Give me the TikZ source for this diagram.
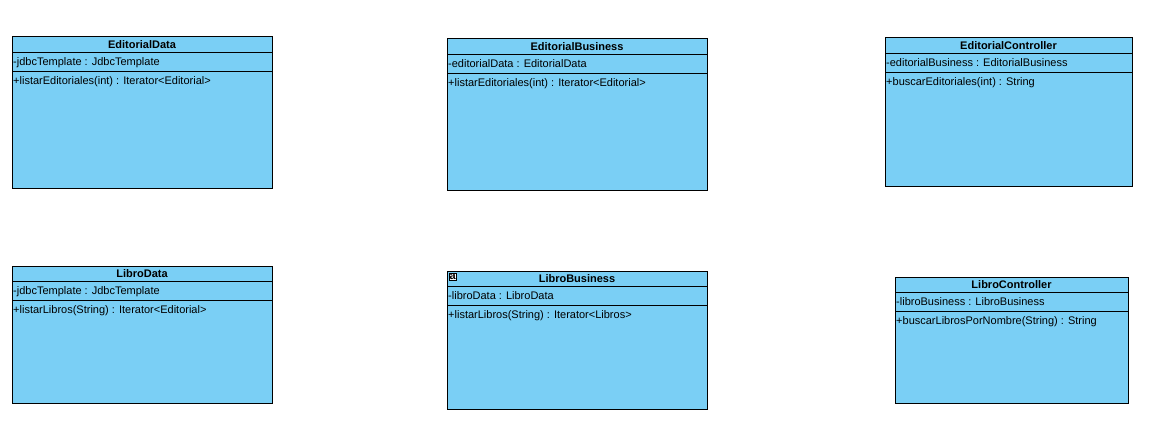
\documentclass[tikz,border=0pt]{standalone}
\usepackage{fontspec}
\setmainfont{Liberation Sans}
\usepackage{tikz}
\usetikzlibrary{positioning}

\definecolor{classblue}{RGB}{122,207,245}

\tikzset{
  classbox/.style={draw=black, line width=1pt, fill=classblue, anchor=north west,
    inner sep=0pt, outer sep=0pt},
  classtitle/.style={font=\fontsize{11}{13}\selectfont\bfseries, inner sep=0pt,
    text height=8pt, text depth=2.5pt},
  member/.style={font=\fontsize{11}{13}\selectfont, anchor=west, inner sep=1pt,
    text height=8pt, text depth=2.5pt},
  sepline/.style={line width=1pt}
}

\begin{document}
\begin{tikzpicture}[x=1pt,y=-1pt]
    \useasboundingbox (0,0) rectangle (1154,436);
    % class boxes
    \node[classbox, minimum width=260pt, minimum height=151pt] (edata) at (12,37) {};
    \node[classbox, minimum width=260pt, minimum height=151pt] (ebus) at (447,39) {};
    \node[classbox, minimum width=247pt, minimum height=148pt] (ectrl) at (885,38) {};
    \node[classbox, minimum width=260pt, minimum height=137pt] (ldata) at (12,266) {};
    \node[classbox, minimum width=260pt, minimum height=138pt] (lbus) at (447,271) {};
    \node[classbox, minimum width=233pt, minimum height=126pt] (lctrl) at (895,277) {};
    % compartments
    \foreach \c in {edata,ebus,ectrl,ldata,lbus,lctrl} {
        \draw[sepline] ([yshift=-15.5pt]\c.north west) -- ([yshift=-15.5pt]\c.north east);
        \draw[sepline] ([yshift=-34.5pt]\c.north west) -- ([yshift=-34.5pt]\c.north east);
    }
    % EditorialData
    \node[classtitle] (edatat) at ([yshift=-8.5pt]edata.north) {EditorialData};
    \node[member] (edataa) at ([yshift=-25.5pt]edata.north west) {-jdbcTemplate : JdbcTemplate};
    \node[member] (edatao) at ([yshift=-45pt]edata.north west) {+listarEditoriales(int) : Iterator<Editorial>};
    % EditorialBusiness
    \node[classtitle] (ebust) at ([yshift=-8.5pt]ebus.north) {EditorialBusiness};
    \node[member] (ebusa) at ([yshift=-25.5pt]ebus.north west) {-editorialData : EditorialData};
    \node[member] (ebuso) at ([yshift=-45pt]ebus.north west) {+listarEditoriales(int) : Iterator<Editorial>};
    % EditorialController
    \node[classtitle] (ectrlt) at ([yshift=-8.5pt]ectrl.north) {EditorialController};
    \node[member] (ectrla) at ([yshift=-25.5pt]ectrl.north west) {-editorialBusiness : EditorialBusiness};
    \node[member] (ectrlo) at ([yshift=-45pt]ectrl.north west) {+buscarEditoriales(int) : String};
    % LibroData
    \node[classtitle] (ldatat) at ([yshift=-8.5pt]ldata.north) {LibroData};
    \node[member] (ldataa) at ([yshift=-25.5pt]ldata.north west) {-jdbcTemplate : JdbcTemplate};
    \node[member] (ldatao) at ([yshift=-45pt]ldata.north west) {+listarLibros(String) : Iterator<Editorial>};
    % LibroBusiness
    \node[classtitle] (lbust) at ([yshift=-8.5pt]lbus.north) {LibroBusiness};
    \node[member] (lbusa) at ([yshift=-25.5pt]lbus.north west) {-libroData : LibroData};
    \node[member] (lbuso) at ([yshift=-45pt]lbus.north west) {+listarLibros(String) : Iterator<Libros>};
    \node[draw=black, line width=0.7pt, fill=white, inner xsep=0.8pt, inner ysep=0.6pt,
          anchor=north west, font=\fontsize{11}{11}\selectfont\bfseries,
          text height=6.5pt, text depth=0pt] (lbusicon)
          at ([xshift=1.5pt,yshift=-1.5pt]lbus.north west) {a};
    % LibroController
    \node[classtitle] (lctrlt) at ([yshift=-8.5pt]lctrl.north) {LibroController};
    \node[member] (lctrla) at ([yshift=-25.5pt]lctrl.north west) {-libroBusiness : LibroBusiness};
    \node[member] (lctrlo) at ([yshift=-45pt]lctrl.north west) {+buscarLibrosPorNombre(String) : String};
\end{tikzpicture}
\end{document}
